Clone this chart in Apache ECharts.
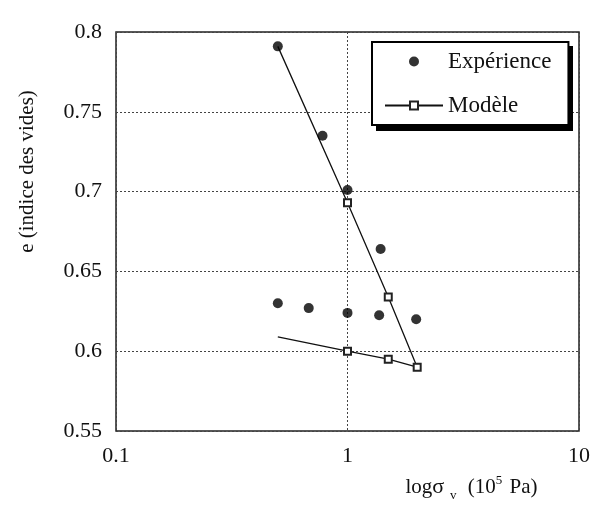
<!DOCTYPE html>
<html>
<head>
<meta charset="utf-8">
<script src="https://cdn.jsdelivr.net/npm/echarts@6/dist/echarts.min.js"></script>
<style>html,body{margin:0;padding:0;background:#fff}#c{width:594px;height:507px}</style>
</head>
<body>
<div id="c"></div>
<script>
// Experimental points (sigma_v in 10^5 Pa, void ratio e)
var expX = [0.5, 0.78, 1.0, 1.39, 0.5, 0.68, 1.0, 1.37, 1.98];
var expY = [0.791, 0.735, 0.701, 0.664, 0.630, 0.627, 0.624, 0.6225, 0.620];
// Model curve (loading then unloading)
var modX = [0.5, 1.0, 1.5, 2.0, 1.5, 1.0, 0.5];
var modY = [0.791, 0.693, 0.634, 0.590, 0.595, 0.600, 0.609];
var modMarker = [false, true, true, true, true, true, false];
// Axis ticks
var xTicks = [0.1, 1, 10];
var yTicks = [0.55, 0.6, 0.65, 0.7, 0.75, 0.8];
var seriesNames = ['Expérience', 'Modèle'];

var FONT = '"Liberation Serif", "DejaVu Serif", serif';
var chart = echarts.init(document.getElementById('c'), null, {renderer: 'canvas'});
chart.setOption({
  backgroundColor: '#fff',
  animation: false,
  textStyle: {fontFamily: FONT, color: '#111'},
  grid: {left: 116, right: 15, top: 32, bottom: 75, show: true, borderColor: '#222', borderWidth: 1.5, backgroundColor: 'transparent'},
  graphic: [{
    type: 'rect', z: 3,
    shape: {x: 376, y: 46, width: 197, height: 85},
    style: {fill: '#000'}
  }],
  legend: {
    data: [{name: seriesNames[0], icon: 'circle'}, {name: seriesNames[1]}],
    orient: 'vertical',
    left: 372, top: 42,
    itemWidth: 58, itemHeight: 10, itemGap: 21,
    padding: [8, 17, 8, 12],
    backgroundColor: '#fff',
    borderColor: '#000', borderWidth: 2,
    textStyle: {fontFamily: FONT, fontSize: 23, color: '#111', lineHeight: 20}
  },
  xAxis: {
    type: 'log', logBase: 10, min: xTicks[0], max: xTicks[xTicks.length - 1],
    axisLine: {show: false}, axisTick: {show: false},
    axisLabel: {fontFamily: FONT, fontSize: 22, color: '#111', margin: 14},
    splitLine: {show: true, lineStyle: {type: [2, 2], color: '#444', width: 1}},
    name: 'log{s|σ}{sub|v} (10{sup|5} Pa)',
    nameLocation: 'middle', nameGap: 42,
    nameTextStyle: {
      fontFamily: FONT, fontSize: 21, color: '#111', padding: [0, 0, 0, 248],
      rich: {
        s: {fontFamily: FONT, fontSize: 22, color: '#111'},
        sub: {fontFamily: FONT, fontSize: 13, color: '#111', padding: [16, 6, 0, 6]},
        sup: {fontFamily: FONT, fontSize: 13, color: '#111', padding: [0, 2, 14, 0]}
      }
    }
  },
  yAxis: {
    type: 'value', min: yTicks[0], max: yTicks[yTicks.length - 1], interval: 0.05,
    axisLine: {show: false}, axisTick: {show: false},
    axisLabel: {fontFamily: FONT, fontSize: 22, color: '#111', margin: 14,
      formatter: function (v) { return String(+v.toFixed(2)); }},
    splitLine: {show: true, lineStyle: {type: [2, 2], color: '#444', width: 1}},
    name: 'e (indice des vides)',
    nameLocation: 'middle', nameRotate: 90, nameGap: 78,
    nameTextStyle: {fontFamily: FONT, fontSize: 21, color: '#111', padding: [0, 0, 0, 120]}
  },
  series: [
    {
      name: seriesNames[0], type: 'scatter',
      symbol: 'circle', symbolSize: 10,
      itemStyle: {color: '#000'},
      data: expX.map(function (x, i) { return [x, expY[i]]; }),
      z: 3
    },
    {
      name: seriesNames[1], type: 'line',
      symbol: 'emptyRect', symbolSize: 7, showAllSymbol: true,
      lineStyle: {color: '#111', width: 1.3},
      itemStyle: {color: '#222', borderWidth: 1},
      data: modX.map(function (x, i) {
        return modMarker[i] ? [x, modY[i]] : {value: [x, modY[i]], symbol: 'none'};
      }),
      z: 2
    }
  ]
});
</script>
</body>
</html>
